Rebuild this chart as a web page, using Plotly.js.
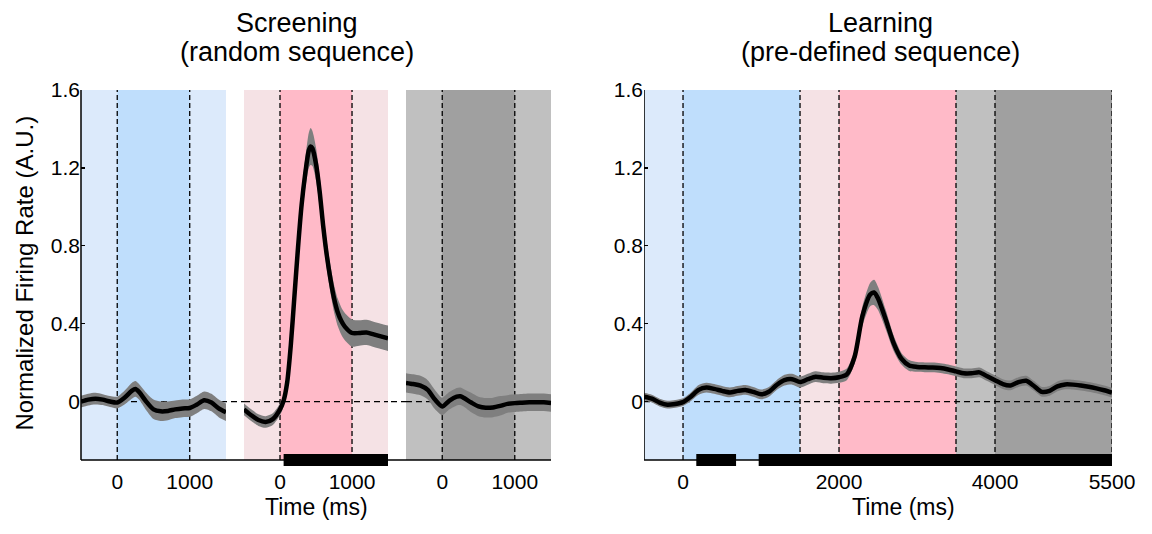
<!DOCTYPE html>
<html><head><meta charset="utf-8">
<script src="https://cdn.plot.ly/plotly-3.0.1.min.js"></script>
<style>html,body{margin:0;padding:0;background:#fff}#chart{width:1152px;height:534px}</style>
</head><body><div id="chart"></div>
<script>
// ---------- DATA ----------
// Screening, epoch 1 (blue)
const scrTimeBlue = [-500,-400,-300,-200,-100,0,100,200,250,300,400,500,600,700,800,900,1000,1100,1200,1300,1400,1500];
const scrMeanBlue = [0.0,0.01,0.015,0.01,0.0,-0.005,0.02,0.055,0.065,0.05,0.0,-0.04,-0.05,-0.048,-0.04,-0.035,-0.033,-0.015,0.007,-0.005,-0.035,-0.055];
const scrSemBlue  = [0.03,0.03,0.03,0.028,0.028,0.03,0.035,0.04,0.04,0.04,0.045,0.05,0.05,0.048,0.045,0.045,0.045,0.045,0.045,0.045,0.045,0.045];
// Screening, epoch 2 (red)
const scrTimeRed = [-500,-400,-300,-200,-100,0,50,100,150,200,250,300,350,400,425,450,500,550,600,650,700,750,800,850,900,1000,1100,1200,1300,1400,1500];
const scrMeanRed = [-0.04,-0.07,-0.095,-0.105,-0.09,-0.04,0.005,0.1,0.29,0.54,0.79,1.01,1.17,1.29,1.31,1.30,1.22,1.08,0.9,0.75,0.63,0.53,0.46,0.415,0.385,0.352,0.352,0.355,0.345,0.335,0.325];
const scrSemRed  = [0.03,0.03,0.03,0.03,0.03,0.03,0.03,0.035,0.04,0.05,0.06,0.07,0.08,0.09,0.095,0.09,0.085,0.08,0.075,0.07,0.07,0.07,0.07,0.07,0.07,0.07,0.065,0.065,0.065,0.065,0.065];
// Screening, epoch 3 (gray)
const scrTimeGray = [-500,-400,-300,-200,-100,0,100,200,250,300,400,500,600,700,800,900,1000,1100,1200,1300,1400,1500];
const scrMeanGray = [0.096,0.09,0.082,0.06,0.01,-0.025,0.005,0.025,0.027,0.018,-0.005,-0.025,-0.032,-0.03,-0.022,-0.012,-0.008,-0.006,-0.004,-0.003,-0.004,-0.007];
const scrSemGray  = [0.05,0.05,0.05,0.05,0.05,0.045,0.045,0.045,0.045,0.045,0.05,0.05,0.05,0.05,0.05,0.045,0.045,0.045,0.045,0.045,0.045,0.045];
// Learning
const lrnTime = [-500,-400,-300,-200,-100,0,100,200,300,400,500,600,700,800,900,1000,1100,1200,1300,1400,1500,1600,1700,1800,1900,2000,2100,2200,2300,2400,2450,2500,2600,2700,2800,2900,3000,3100,3200,3300,3400,3500,3600,3700,3800,3900,4000,4100,4200,4300,4400,4500,4600,4700,4800,4900,5000,5100,5200,5300,5400,5500];
const lrnMean = [0.025,0.015,-0.005,-0.016,-0.012,-0.003,0.025,0.06,0.072,0.065,0.055,0.047,0.055,0.06,0.05,0.037,0.05,0.085,0.11,0.115,0.1,0.115,0.128,0.122,0.12,0.125,0.14,0.23,0.44,0.55,0.56,0.53,0.42,0.3,0.22,0.185,0.178,0.176,0.175,0.172,0.165,0.155,0.145,0.145,0.15,0.13,0.11,0.09,0.083,0.1,0.107,0.08,0.05,0.055,0.078,0.088,0.087,0.082,0.076,0.068,0.058,0.046];
const lrnSem = [0.02,0.02,0.02,0.02,0.02,0.02,0.022,0.025,0.025,0.025,0.025,0.025,0.025,0.025,0.025,0.025,0.025,0.025,0.028,0.028,0.028,0.028,0.028,0.028,0.028,0.028,0.03,0.035,0.05,0.06,0.065,0.06,0.05,0.04,0.03,0.028,0.025,0.025,0.025,0.025,0.025,0.025,0.025,0.025,0.025,0.025,0.025,0.025,0.025,0.025,0.025,0.025,0.025,0.025,0.025,0.025,0.025,0.025,0.025,0.025,0.025,0.025];
// Epochs & significance
const scrEpochOuter = [-500, 1500];
const scrEpochInner = [0, 1000];
const scrTickVals = [0, 1000];
const scrSigStart = [50];
const scrSigEnd = [1500];
const lrnBounds = [-500, 0, 1500, 2000, 3500, 4000, 5500];
const lrnDashes = [0, 1500, 2000, 3500, 4000, 5500];
const lrnTickVals = [0, 2000, 4000, 5500];
const lrnSigStart = [170, 970];
const lrnSigEnd = [680, 5500];
const yTickVals = [0, 0.4, 0.8, 1.2, 1.6];
const yTickText = ['0', '0.4', '0.8', '1.2', '1.6'];

// ---------- STYLE ----------
const C = {lblue:'#dceafb', blue:'#bfdefc', lpink:'#f5e2e5', pink:'#ffbac8', lgray:'#c0c0c0', dgray:'#a0a0a0', band:'#7f7f7f'};
const lrnColors = [C.lblue, C.blue, C.lpink, C.pink, C.lgray, C.dgray];
const FONT = 'Liberation Sans, Arial, Helvetica, sans-serif';
const YMIN = -0.3, YMAX = 1.6;

function bandTraces(xa, ya, t, m, s) {
  const up = m.map((v,i)=>v+s[i]);
  const lo = m.map((v,i)=>v-s[i]);
  const base = {x:t, xaxis:xa, yaxis:ya, mode:'lines', hoverinfo:'skip', showlegend:false};
  return [
    Object.assign({}, base, {y:up, line:{width:0, shape:'spline', smoothing:0.7}}),
    Object.assign({}, base, {y:lo, line:{width:0, shape:'spline', smoothing:0.7}, fill:'tonexty', fillcolor:C.band}),
    Object.assign({}, base, {y:m, line:{width:4.5, color:'#000', shape:'spline', smoothing:0.7}})
  ];
}
function sigBar(xa, ya, starts, ends) {
  return {type:'bar', orientation:'h', xaxis:xa, yaxis:ya,
    y: starts.map(()=>YMIN), base: starts, x: ends.map((e,i)=>e-starts[i]),
    width: 0.062, marker:{color:'#000', line:{width:0}}, hoverinfo:'skip', showlegend:false};
}

const traces = [].concat(
  bandTraces('x','y', scrTimeBlue, scrMeanBlue, scrSemBlue),
  bandTraces('x2','y', scrTimeRed, scrMeanRed, scrSemRed),
  bandTraces('x3','y', scrTimeGray, scrMeanGray, scrSemGray),
  bandTraces('x4','y2', lrnTime, lrnMean, lrnSem),
  [sigBar('x2','y', scrSigStart, scrSigEnd), sigBar('x4','y2', lrnSigStart, lrnSigEnd)]
);

const shapes = [];
const dash = {color:'#000', width:1.3, dash:'5px,3px'};
const zdash = {color:'#000', width:1.3, dash:'6px,4px'};
const L_END = 0.4559, R_START = 0.5461;
// zero line across the whole left panel (visible in gaps)
shapes.push({type:'line', layer:'below', xref:'paper', yref:'y', x0:0, x1:L_END, y0:0, y1:0, line:zdash});
[['x', C.lblue, C.blue], ['x2', C.lpink, C.pink], ['x3', C.lgray, C.dgray]].forEach(([xa, outer, inner]) => {
  shapes.push({type:'rect', layer:'below', xref:xa, yref:'y', x0:scrEpochOuter[0], x1:scrEpochOuter[1], y0:YMIN, y1:YMAX, fillcolor:outer, line:{width:0}});
  shapes.push({type:'rect', layer:'below', xref:xa, yref:'y', x0:scrEpochInner[0], x1:scrEpochInner[1], y0:YMIN, y1:YMAX, fillcolor:inner, line:{width:0}});
});
for (let i = 0; i < lrnColors.length; i++) {
  shapes.push({type:'rect', layer:'below', xref:'x4', yref:'y2', x0:lrnBounds[i], x1:lrnBounds[i+1], y0:YMIN, y1:YMAX, fillcolor:lrnColors[i], line:{width:0}});
}
['x','x2','x3'].forEach(xa => {
  scrEpochInner.forEach(v => shapes.push({type:'line', layer:'below', xref:xa, yref:'y', x0:v, x1:v, y0:YMIN, y1:YMAX, line:dash}));
  shapes.push({type:'line', layer:'below', xref:xa, yref:'y', x0:scrEpochOuter[0], x1:scrEpochOuter[1], y0:0, y1:0, line:zdash});
});
lrnDashes.forEach(v => shapes.push({type:'line', layer:'below', xref:'x4', yref:'y2', x0:v, x1:v, y0:YMIN, y1:YMAX, line:dash}));
shapes.push({type:'line', layer:'below', xref:'x4', yref:'y2', x0:lrnBounds[0], x1:lrnBounds[lrnBounds.length-1], y0:0, y1:0, line:zdash});
// axis lines
shapes.push({type:'line', layer:'above', xref:'paper', yref:'y', x0:0, x1:L_END, y0:YMIN, y1:YMIN, line:{color:'#000', width:1.5}});
shapes.push({type:'line', layer:'above', xref:'paper', yref:'y', x0:0, x1:0, y0:YMIN, y1:YMAX, line:{color:'#000', width:1.5}});
shapes.push({type:'line', layer:'above', xref:'x4', yref:'y2', x0:lrnBounds[0], x1:lrnBounds[lrnBounds.length-1], y0:YMIN, y1:YMIN, line:{color:'#000', width:1.5}});
shapes.push({type:'line', layer:'above', xref:'x4', yref:'y2', x0:lrnBounds[0], x1:lrnBounds[0], y0:YMIN, y1:YMAX, line:{color:'#000', width:1.5}});

const tickFont = {family:FONT, size:21, color:'#000'};
const xBase = {range:[-500,1500], tickvals:scrTickVals, showgrid:false, zeroline:false, showline:false, ticks:'', tickfont:tickFont, fixedrange:true};
const yBase = {range:[-0.336, YMAX], tickvals:yTickVals, ticktext:yTickText, showgrid:false, zeroline:false, showline:false,
  ticks:'inside', ticklen:4, tickwidth:1.3, tickcolor:'#000', tickfont:tickFont, domain:[0,1], fixedrange:true};

const ann = (text, x, y, size, extra) => Object.assign({text, x, y, xref:'paper', yref:'paper', showarrow:false, xanchor:'center', yanchor:'middle', font:{family:FONT, size, color:'#000'}}, extra||{});

const layout = {
  width:1152, height:534, margin:{l:81, r:40, t:90, b:67},
  paper_bgcolor:'#fff', plot_bgcolor:'#fff', showlegend:false, barmode:'overlay',
  xaxis: Object.assign({}, xBase, {domain:[0, 0.1406], anchor:'y'}),
  xaxis2: Object.assign({}, xBase, {domain:[0.1581, 0.2978], anchor:'y'}),
  xaxis3: Object.assign({}, xBase, {domain:[0.3152, L_END], anchor:'y'}),
  xaxis4: Object.assign({}, xBase, {domain:[R_START, 1], range:[lrnBounds[0], lrnBounds[lrnBounds.length-1]], tickvals:lrnTickVals, anchor:'y2'}),
  yaxis: Object.assign({}, yBase, {anchor:'x'}),
  yaxis2: Object.assign({}, yBase, {anchor:'x4'}),
  shapes: shapes,
  annotations: [
    ann('Screening', 0.2095, 1.1777, 27),
    ann('(random sequence)', 0.2095, 1.0995, 27),
    ann('Learning', 0.7750, 1.1777, 27),
    ann('(pre-defined sequence)', 0.7750, 1.0995, 27),
    ann('Normalized Firing Rate (A.U.)', -0.0543, 0.513, 24, {textangle:-90}),
    ann('Time (ms)', 0.2284, -0.1061, 23),
    ann('Time (ms)', 0.7973, -0.1061, 23)
  ]
};

Plotly.newPlot('chart', traces, layout, {staticPlot:true, displayModeBar:false});
</script></body></html>
